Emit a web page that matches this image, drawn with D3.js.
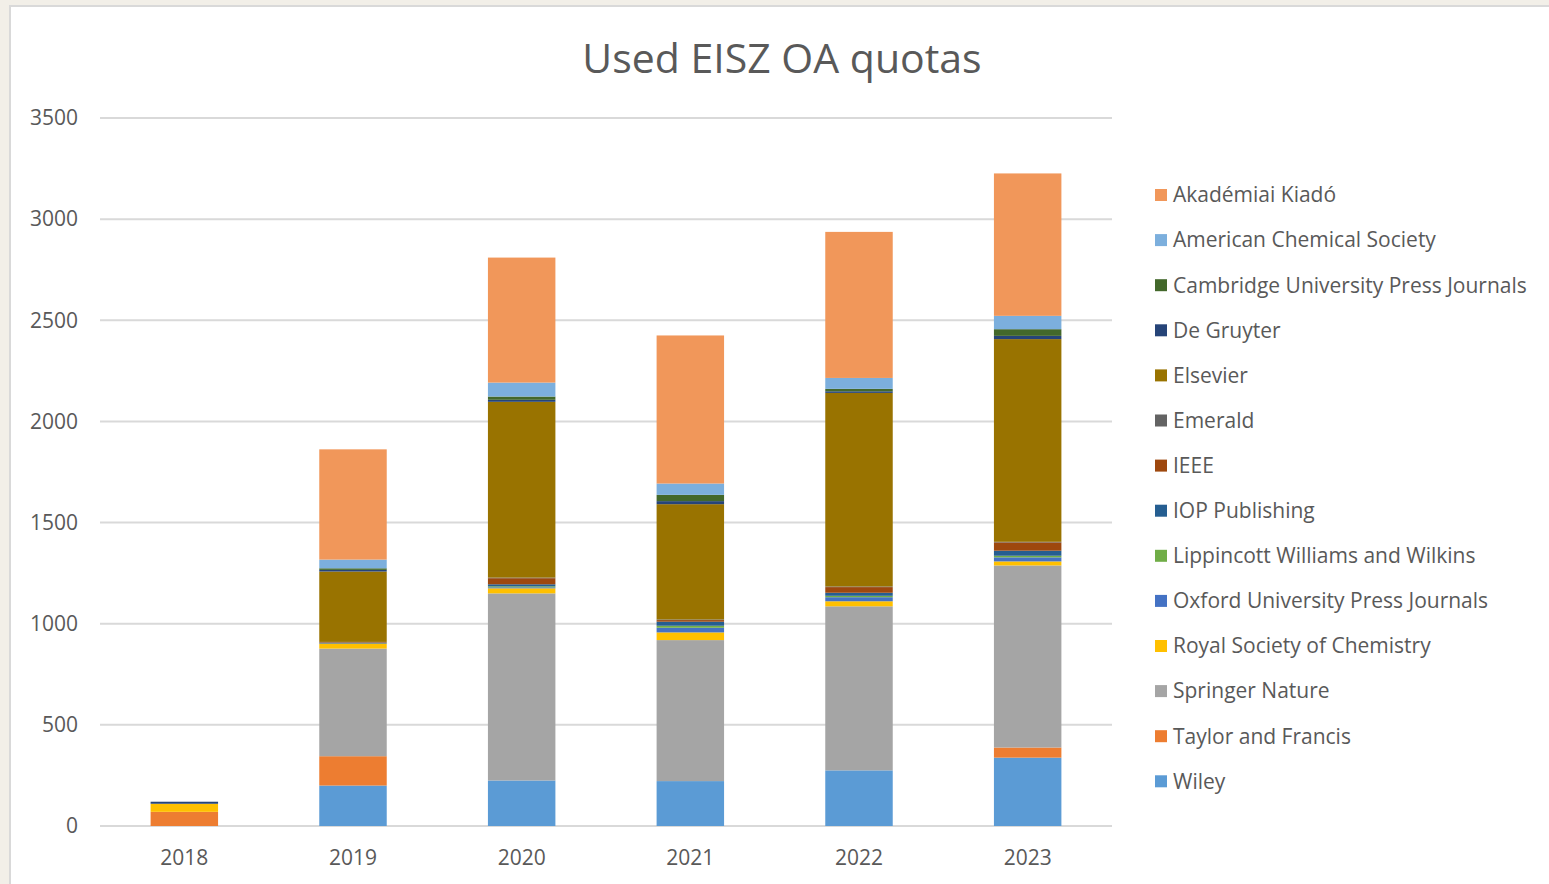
<!DOCTYPE html>
<html>
<head>
<meta charset="utf-8">
<script src="https://cdn.jsdelivr.net/npm/d3@7"></script>
<style>
  html, body { margin: 0; padding: 0; background: #F2EFE8; overflow: hidden; }
  svg { display: block; }
  text { font-family: "Open Sans", "Liberation Sans", sans-serif; }
</style>
</head>
<body>
<svg id="chart" width="1549" height="884"></svg>
<script>
// ---------- data ----------
const years = ["2018", "2019", "2020", "2021", "2022", "2023"];
const seriesNames = [
  "Wiley", "Taylor and Francis", "Springer Nature", "Royal Society of Chemistry",
  "Oxford University Press Journals", "Lippincott Williams and Wilkins", "IOP Publishing",
  "IEEE", "Emerald", "Elsevier", "De Gruyter", "Cambridge University Press Journals",
  "American Chemical Society", "Akadémiai Kiadó"
];
const wiley       = [0, 200, 225, 222, 275, 338];
const taylor      = [70, 145, 0, 0, 0, 50];
const springer    = [0, 532, 925, 697, 811, 900];
const rsc         = [40, 25, 25, 38, 25, 20];
const oxford      = [0, 0, 5, 23, 20, 20];
const lippincott  = [0, 0, 5, 10, 7, 8];
const iop         = [0, 3, 10, 20, 15, 25];
const ieee        = [0, 3, 30, 8, 28, 41];
const emerald     = [0, 2, 3, 3, 3, 3];
const elsevier    = [0, 348, 869, 570, 957, 1002];
const degruyter   = [10, 8, 10, 15, 8, 16];
const cambridge   = [0, 8, 16, 31, 12, 33];
const acs         = [0, 43, 69, 56, 54, 66];
const akademiai   = [0, 545, 618, 732, 722, 704];
const yTicks = [0, 500, 1000, 1500, 2000, 2500, 3000, 3500];

const seriesValues = [wiley, taylor, springer, rsc, oxford, lippincott, iop,
  ieee, emerald, elsevier, degruyter, cambridge, acs, akademiai];
const colors = ["#5B9BD5", "#ED7D31", "#A5A5A5", "#FFC000", "#4472C4", "#70AD47",
  "#255E91", "#9E480E", "#636363", "#997300", "#264478", "#43682B", "#7CAFDD", "#F1975A"];

// ---------- build table ----------
const table = years.map((y, i) => {
  const row = { year: y };
  seriesNames.forEach((s, k) => row[s] = seriesValues[k][i]);
  return row;
});
const stacked = d3.stack().keys(seriesNames)(table);

const svg = d3.select("#chart");
const FONT = "'Open Sans', 'Liberation Sans', sans-serif";

// chart area (white panel)
svg.append("rect").attr("x", 10).attr("y", 6).attr("width", 1560).attr("height", 900)
  .attr("fill", "#ffffff").attr("stroke", "#D9D9D9").attr("stroke-width", 2);

const x = d3.scaleBand().domain(years).range([100, 1112]).paddingInner(0.6).paddingOuter(0.3);
const y = d3.scaleLinear().domain([0, 3500]).range([826, 118]);
const color = d3.scaleOrdinal().domain(seriesNames).range(colors);

// gridlines
svg.append("g").selectAll("line").data(yTicks).join("line")
  .attr("x1", 100).attr("x2", 1112)
  .attr("y1", d => y(d)).attr("y2", d => y(d))
  .attr("stroke", "#D9D9D9").attr("stroke-width", 2);

// y axis labels
const yAxis = svg.append("g").attr("transform", "translate(78,0)")
  .call(d3.axisLeft(y).tickValues(yTicks).tickFormat(d3.format("d")).tickSize(0).tickPadding(0));
yAxis.select(".domain").remove();
yAxis.selectAll("text").attr("font-size", 21).attr("fill", "#595959")
  .style("font-family", FONT);

// x axis labels
const xAxis = svg.append("g").attr("transform", "translate(0,844)")
  .call(d3.axisBottom(x).tickSize(0).tickPadding(6));
xAxis.select(".domain").remove();
xAxis.selectAll("text").attr("font-size", 21).attr("fill", "#595959")
  .style("font-family", FONT);

// bars
svg.append("g").selectAll("g").data(stacked).join("g")
  .attr("fill", d => color(d.key))
  .selectAll("rect").data(d => d).join("rect")
  .attr("x", d => x(d.data.year))
  .attr("width", x.bandwidth())
  .attr("y", d => y(d[1]))
  .attr("height", d => Math.max(0, y(d[0]) - y(d[1])));

// title
svg.append("text").attr("x", 782).attr("y", 73).attr("text-anchor", "middle")
  .attr("font-size", 41).attr("fill", "#595959").style("font-family", FONT)
  .text("Used EISZ OA quotas");

// legend (reverse order)
const legendItems = seriesNames.slice().reverse();
const lg = svg.append("g").selectAll("g").data(legendItems).join("g")
  .attr("transform", (d, i) => `translate(1155, ${195 + i * 45.1})`);
lg.append("rect").attr("x", 0).attr("y", -6).attr("width", 12).attr("height", 12)
  .attr("fill", d => color(d));
lg.append("text").attr("x", 18).attr("y", 0).attr("dy", "0.35em")
  .attr("font-size", 21).attr("fill", "#595959").style("font-family", FONT)
  .text(d => d);
</script>
</body>
</html>
